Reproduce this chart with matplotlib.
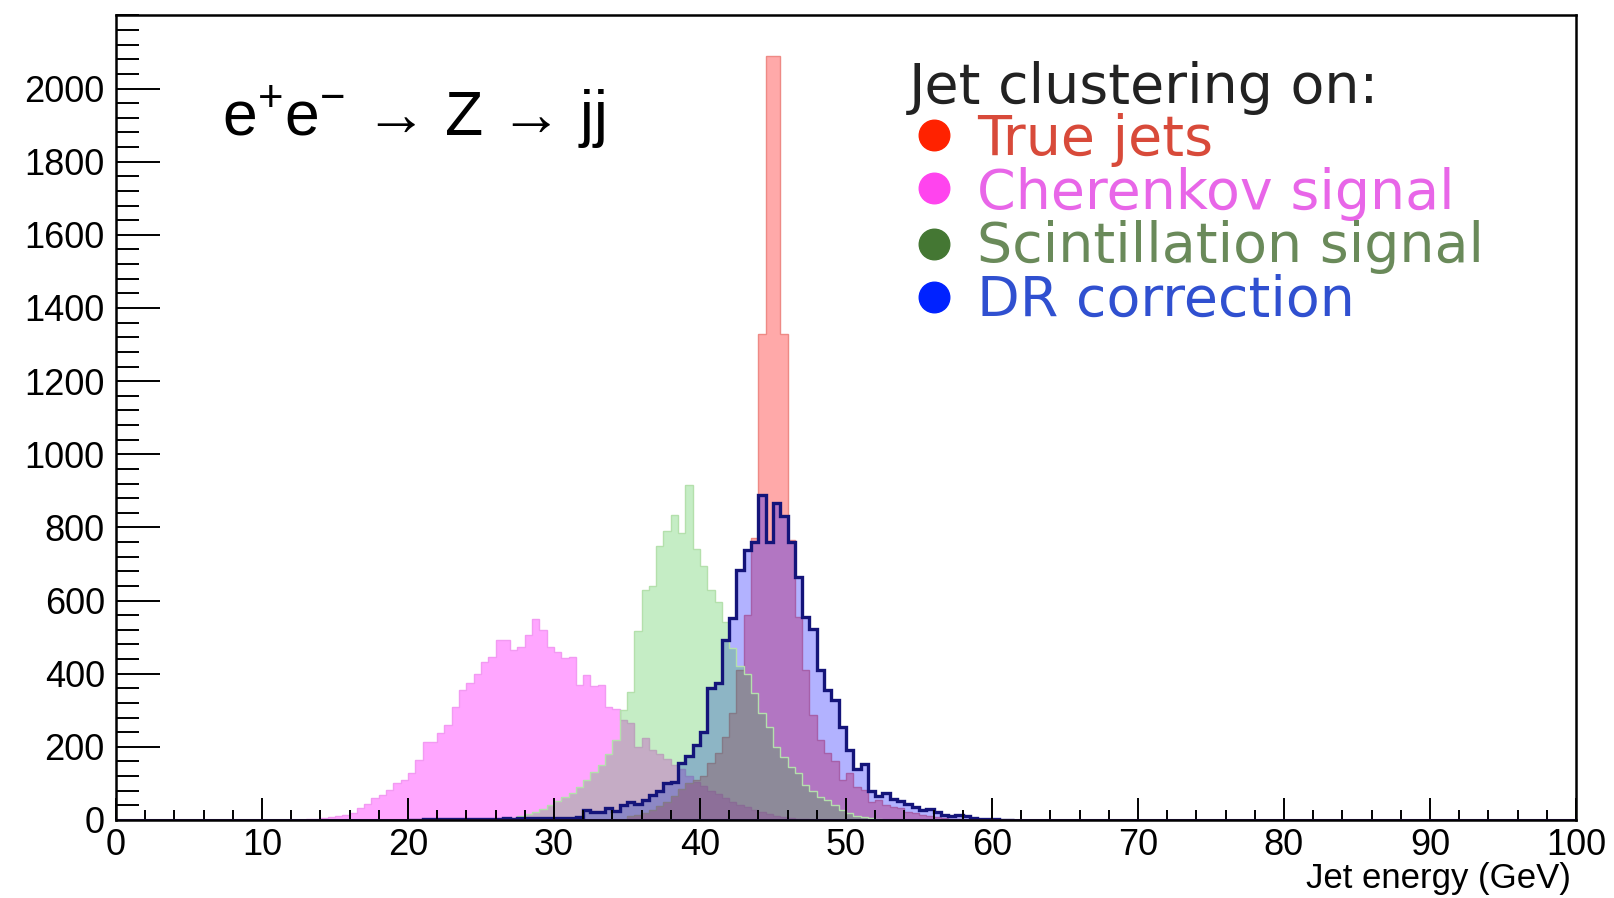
import numpy as np
import matplotlib
matplotlib.use("Agg")
import matplotlib.pyplot as plt
from matplotlib.ticker import MultipleLocator

plt.rcParams['font.family'] = ['Liberation Sans', 'DejaVu Sans']

# histogram contents, 0.5 GeV bins
bin_width = 0.5

cherenkov_start = 13.0
cherenkov = [2, 3, 5, 7, 10, 14,
             18, 32, 45, 59, 68, 82, 100, 110, 128, 164,
             214, 214, 239, 260, 310, 356, 374, 400, 433, 447,
             492, 492, 465, 474, 506, 549, 520, 474, 460, 442,
             447, 369, 397, 365, 369, 310, 303, 273, 264, 200,
             223, 191, 180, 168, 150, 138, 120, 105, 92, 80,
             70, 60, 50, 42, 35, 28, 22, 17, 12, 8,
             5, 3, 2]

scint_start = 26.5
scintillation = [3, 6, 10, 15, 22, 30, 40, 52, 62, 75,
                 90, 110, 130, 150, 180, 220, 300, 350, 518, 630,
                 640, 750, 790, 835, 785, 915, 740, 695, 630, 595,
                 540, 470, 420, 400, 347, 292, 255, 200, 173, 146,
                 128, 96, 78, 64, 55, 41, 27, 18, 12, 8,
                 5, 3]

dr_start = 20.0
dr_corr = [1, 1, 2, 2, 2, 3, 2, 3, 3, 4, 3, 4, 4, 5, 4, 5, 5, 6, 5, 6,
           5, 5, 6, 9, 27, 23, 23, 32, 25, 41,
           50, 45, 55, 68, 78, 100, 105, 155, 175, 205,
           240, 360, 374, 492, 552, 684, 739, 761, 889, 761,
           868, 832, 761, 664, 556, 522, 409, 356, 328, 255,
           190, 140, 153, 80, 66, 73, 57, 52, 44, 36,
           27, 29, 21, 14, 11, 14, 11, 5, 4, 3,
           2, 1, 1]

true_start = 35.0
true_jets = [10, 14, 20, 28, 38, 50, 65, 85, 100, 110,
             120, 155, 182, 228, 292, 410, 561, 770, 1330, 2090,
             2090, 1330, 766, 556, 410, 287, 219, 182, 160, 109,
             128, 91, 82, 50, 55, 41, 36, 32, 22, 18,
             14, 10, 7, 5, 3, 2]

legend_labels = ["True jets", "Cherenkov signal", "Scintillation signal", "DR correction"]
legend_dot_colors = ["#ff2200", "#ff44ee", "#447733", "#0022ff"]
legend_text_colors = ["#d84a3a", "#e866e8", "#6a8a5a", "#3050d0"]

fig = plt.figure(figsize=(16.15, 8.98), dpi=100)
ax = fig.add_axes([0.0718, 0.0869, 0.904, 0.8959])


def edges_for(start, vals):
    return start + bin_width * np.arange(len(vals) + 1)


def draw_hist(vals, start, color, alpha, edge):
    e = edges_for(start, vals)
    ax.stairs(vals, e, fill=True, color=color, alpha=alpha, lw=0)
    ax.stairs(vals, e, color=edge, lw=1.0)


draw_hist(cherenkov, cherenkov_start, "#ff00ff", 0.35, "#f29af2")
draw_hist(true_jets, true_start, "#ff3333", 0.42, "#ee8a85")
draw_hist(dr_corr, dr_start, "#0000ff", 0.30, "#9a9af0")
draw_hist(scintillation, scint_start, "#2fbf2f", 0.28, "#b4e0ac")
ax.axhline(0, color="#4b2a8a", lw=2.2)
ax.stairs(dr_corr, edges_for(dr_start, dr_corr), color="#14147a", lw=2.4)

ax.set_xlim(0, 100)
ax.set_ylim(0, 2200)
ax.set_yticks(np.arange(0, 2001, 200))
ax.xaxis.set_major_locator(MultipleLocator(10))
ax.xaxis.set_minor_locator(MultipleLocator(2))
ax.yaxis.set_minor_locator(MultipleLocator(40))

ax.tick_params(axis='y', which='major', direction='in', length=32, width=1.4,
               labelsize=26, pad=8)
ax.tick_params(axis='y', which='minor', direction='in', length=16.5, width=1.4)
ax.tick_params(axis='x', which='major', direction='in', length=16, width=1.4,
               labelsize=26, pad=6)
ax.tick_params(axis='x', which='minor', direction='in', length=7.5, width=1.4)
for s in ax.spines.values():
    s.set_linewidth(1.8)

ax.text(0.9966, -0.0845, "Jet energy (GeV)", transform=ax.transAxes,
        ha='right', va='baseline', fontsize=25)

ax.text(0.0723, 0.850, r'$\mathregular{e^{+}e^{-}}$ → Z → jj',
        transform=ax.transAxes, ha='left', va='baseline', fontsize=45)

# legend drawn by hand, ROOT style
ax.text(0.543, 0.891, "Jet clustering on:", transform=ax.transAxes,
        family='DejaVu Sans', fontsize=40, color="#222222", va='baseline')
dot_y = [0.851, 0.785, 0.716, 0.650]
text_y = [0.827, 0.759, 0.693, 0.627]
for i in range(4):
    ax.plot([0.560], [dot_y[i]], 'o', transform=ax.transAxes, ms=22,
            color=legend_dot_colors[i], clip_on=False)
    ax.text(0.590, text_y[i], legend_labels[i], transform=ax.transAxes,
            family='DejaVu Sans', fontsize=40, color=legend_text_colors[i],
            va='baseline')

fig.savefig("out.png", dpi=100)
